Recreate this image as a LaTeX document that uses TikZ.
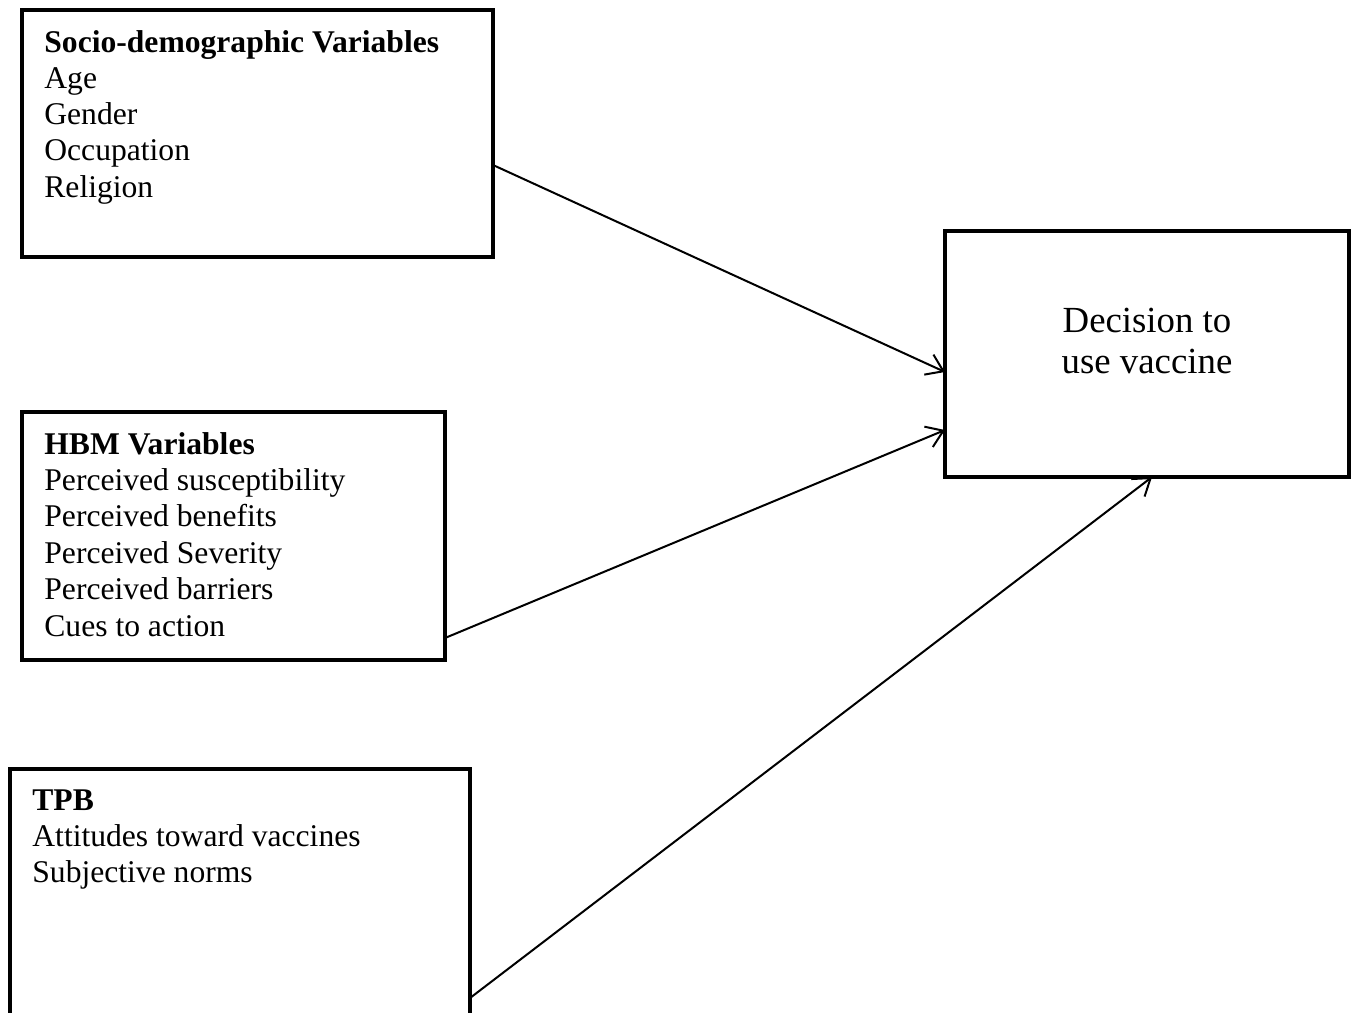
\documentclass[tikz,border=0pt]{standalone}
\usepackage{fontspec}
\setmainfont{Liberation Serif}
\usetikzlibrary{arrows.meta}
\begin{document}
\begin{tikzpicture}[x=0.5pt,y=-0.5pt,
  box/.style={draw, line width=2pt, minimum width=#1, inner sep=0pt, outer sep=0pt},
  txt/.style={anchor=base west, inner sep=0pt, font=\fontsize{15.8pt}{18.1pt}\selectfont},
  ttl/.style={txt, font=\fontsize{15.8pt}{18.1pt}\selectfont\bfseries},
  big/.style={anchor=base, inner sep=0pt, font=\fontsize{18.4pt}{21pt}\selectfont},
  conn/.style={line width=1pt, -{Straight Barb[length=8pt,width=11pt,line width=1pt]}}]
\useasboundingbox (0,0) rectangle (1352,1012);
\clip (0,0) rectangle (1352,1012);
% boxes
\node[box=235.5pt, minimum height=123.5pt] (b1) at (257.5,133.5) {};
\node[box=211.5pt, minimum height=124pt] (b2) at (233.5,536) {};
\node[box=230pt, minimum height=135.5pt] (b3) at (240,904.5) {};
\node[box=202pt, minimum height=123pt] (b4) at (1147,354) {};
% texts box 1
\node[ttl] (t1) at (44,52) {Socio-demographic Variables};
\foreach \t [count=\i from 1] in {Age,Gender,Occupation,Religion}
  \node[txt] (t1-\i) at (44,{52+36.25*\i}) {\t};
% texts box 2
\node[ttl] (t2) at (44,454) {HBM Variables};
\foreach \t [count=\i from 1] in {Perceived susceptibility,Perceived benefits,Perceived Severity,Perceived barriers,Cues to action}
  \node[txt] (t2-\i) at (44,{454+36.4*\i}) {\t};
% texts box 3
\node[ttl] (t3) at (32,810) {TPB};
\foreach \t [count=\i from 1] in {Attitudes toward vaccines,Subjective norms}
  \node[txt] (t3-\i) at (32,{810+36.4*\i}) {\t};
% texts box 4
\node[big] (t4a) at (1147,332) {Decision to};
\node[big] (t4b) at (1147,373) {use vaccine};
% connectors
\draw[conn] ([yshift=-15.75pt]b1.east) -- ([yshift=-9pt]b4.west);
\draw[conn] ([yshift=-51pt]b2.east) -- ([yshift=-38pt]b4.west);
\draw[conn] ([yshift=-46.75pt]b3.east) -- ([xshift=2.5pt]b4.south);
\end{tikzpicture}
\end{document}
